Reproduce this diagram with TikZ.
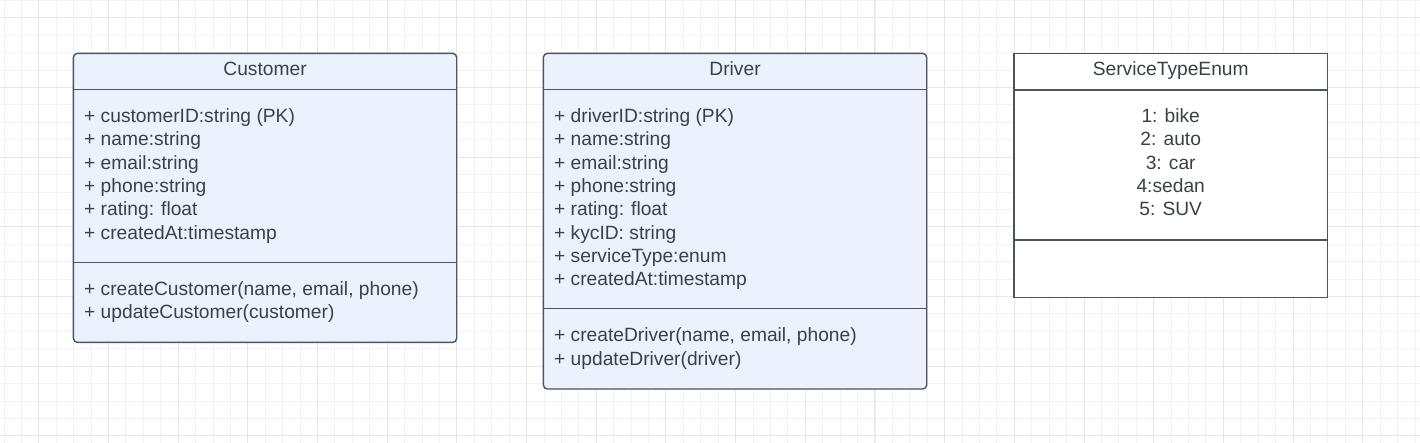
\documentclass[tikz,border=0pt]{standalone}
\usepackage{fontspec}
\setmainfont{Liberation Sans}
\definecolor{gridminor}{RGB}{242,242,242}
\definecolor{gridmajor}{RGB}{230,230,230}
\definecolor{classfill}{RGB}{236,242,253}
\definecolor{classline}{RGB}{78,84,94}
\definecolor{classtext}{RGB}{58,64,74}
\tikzset{
  classbox/.style={draw=classline, line width=1.4pt, fill=classfill, rounded corners=4pt, inner sep=0pt, anchor=north west},
  enumbox/.style={draw=classline, line width=1.4pt, fill=white, inner sep=0pt, anchor=north west},
  classname/.style={font=\fontsize{19.2}{23.3}\selectfont, text=classtext, anchor=base, inner sep=0pt},
  members/.style={font=\fontsize{19.2}{23.3}\selectfont, text=classtext, align=left, anchor=base west, inner sep=0pt},
  divider/.style={draw=classline, line width=1.4pt}
}
\begin{document}
\begin{tikzpicture}[x=1pt, y=-1pt]
\useasboundingbox (0,0) rectangle (1420,443);
\foreach \i in {0,...,81} \draw[gridminor, line width=1pt] (4+17.42*\i,0) -- (4+17.42*\i,443);
\foreach \j in {0,...,25} \draw[gridminor, line width=1pt] (0,0.4+17.42*\j) -- (1420,0.4+17.42*\j);
\foreach \i in {0,...,19} \draw[gridmajor, line width=1pt] (38.8+69.68*\i,0) -- (38.8+69.68*\i,443);
\foreach \j in {0,...,6} \draw[gridmajor, line width=1pt] (0,17.8+69.68*\j) -- (1420,17.8+69.68*\j);

\node[classbox, minimum width=383.3pt, minimum height=289pt] (customer) at (72.7,52.7) {};
\draw[divider] (customer.west |- 0,89.7) -- (customer.east |- 0,89.7);
\draw[divider] (customer.west |- 0,262.3) -- (customer.east |- 0,262.3);
\node[classname] (customername) at (customer.north |- 0,75.7) {Customer};
\node[members] (customerattrs) at (84,239.2) {+ customerID:string (PK)\\+ name:string\\+ email:string\\+ phone:string\\+ rating: float\\+ createdAt:timestamp};
\node[members] (customerops) at (84,319) {+ createCustomer(name, email, phone)\\+ updateCustomer(customer)};

\node[classbox, minimum width=383.3pt, minimum height=335.6pt] (driver) at (542.7,52.7) {};
\draw[divider] (driver.west |- 0,89.7) -- (driver.east |- 0,89.7);
\draw[divider] (driver.west |- 0,308.7) -- (driver.east |- 0,308.7);
\node[classname] (drivername) at (driver.north |- 0,75.7) {Driver};
\node[members] (driverattrs) at (554,285.8) {+ driverID:string (PK)\\+ name:string\\+ email:string\\+ phone:string\\+ rating: float\\+ kycID: string\\+ serviceType:enum\\+ createdAt:timestamp};
\node[members] (driverops) at (554,365) {+ createDriver(name, email, phone)\\+ updateDriver(driver)};

\node[enumbox, minimum width=313.4pt, minimum height=244pt] (servicetype) at (1013.3,52.7) {};
\draw[divider] (servicetype.west |- 0,90) -- (servicetype.east |- 0,90);
\draw[divider] (servicetype.west |- 0,240) -- (servicetype.east |- 0,240);
\node[classname] (servicetypename) at (servicetype.north |- 0,75.7) {ServiceTypeEnum};
\node[members, align=center, anchor=base] (servicetypevalues) at (servicetype.north |- 0,215.9) {1: bike\\2: auto\\3: car\\4:sedan\\5: SUV};
\end{tikzpicture}
\end{document}
